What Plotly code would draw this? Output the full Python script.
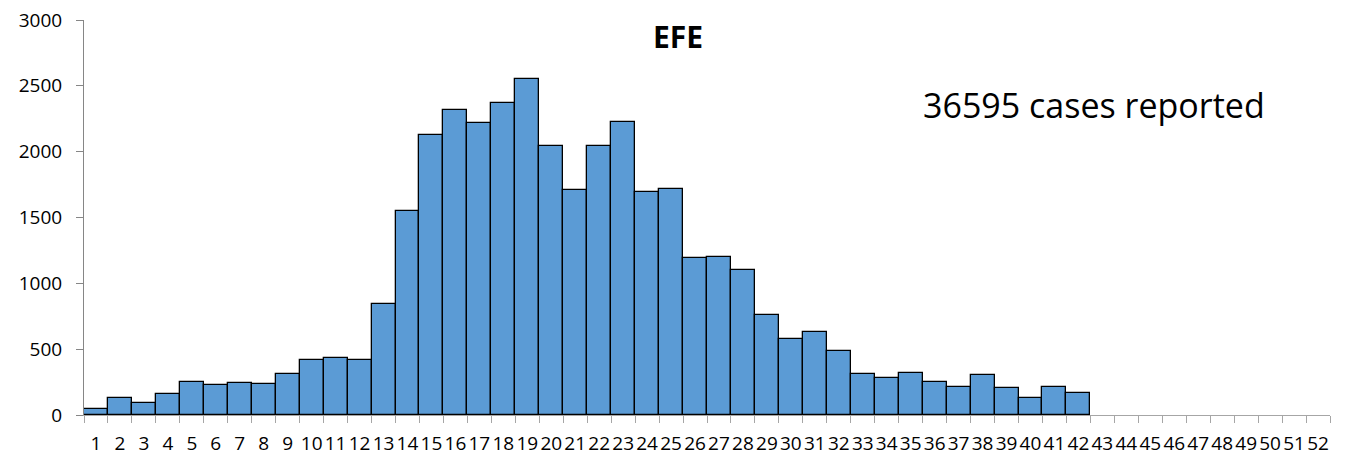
import plotly.graph_objects as go

weeks = [str(i) for i in range(1, 53)]
cases = [45, 129, 91, 159, 250, 225, 240, 235, 308, 417,
         430, 417, 842, 1548, 2125, 2315, 2219, 2368, 2550, 2044,
         1712, 2044, 2229, 1690, 1720, 1194, 1199, 1103, 759, 574,
         630, 483, 308, 283, 316, 250, 215, 304, 202, 129,
         213, 164]
y_ticks = [0, 500, 1000, 1500, 2000, 2500, 3000]
title_text = "EFE"
note_text = "36595 cases reported"

FONT = "Open Sans"

fig = go.Figure()
fig.add_trace(go.Bar(
    x=weeks[:len(cases)], y=cases,
    marker=dict(color="#5B9BD5", line=dict(color="#000000", width=1.3)),
    hoverinfo="x+y",
))

# page body has an 8px default margin, so the figure is sized to fit the window
fig.update_layout(
    width=1344, height=449,
    margin=dict(l=76, r=22, t=12, b=42),
    plot_bgcolor="white", paper_bgcolor="white",
    bargap=0,
    showlegend=False,
    font=dict(family=FONT, color="#000000"),
    xaxis=dict(
        type="category",
        categoryorder="array", categoryarray=weeks,
        range=[-0.5, len(weeks) - 0.5],
        tickmode="array", tickvals=weeks, ticktext=weeks,
        tickangle=0,
        tickson="boundaries",
        ticks="outside", ticklen=7, tickcolor="#A6A6A6", tickwidth=1,
        showline=True, linecolor="#A6A6A6", linewidth=1,
        showgrid=False, zeroline=False,
        ticklabelstandoff=11,
        ticklabeloverflow="allow",
        automargin=False,
        tickfont=dict(family=FONT, size=19, color="#000000"),
    ),
    yaxis=dict(
        range=[0, 3000],
        tickmode="array", tickvals=y_ticks,
        ticks="outside", ticklen=7, tickcolor="#868686", tickwidth=1,
        showline=True, linecolor="#868686", linewidth=1,
        showgrid=False, zeroline=False,
        ticklabelstandoff=10,
        ticklabeloverflow="allow",
        automargin=False,
        tickfont=dict(family=FONT, size=19, color="#000000"),
    ),
    annotations=[
        dict(text="<b>" + title_text + "</b>", xref="paper", yref="paper",
             x=0.4767, y=0.957, xanchor="center", yanchor="middle",
             showarrow=False, font=dict(family=FONT, size=30, color="#000000")),
        dict(text=note_text, xref="paper", yref="paper",
             x=0.6715, y=0.785, xanchor="left", yanchor="middle",
             showarrow=False, font=dict(family=FONT, size=34, color="#000000")),
    ],
)

fig.write_html("out.html")
